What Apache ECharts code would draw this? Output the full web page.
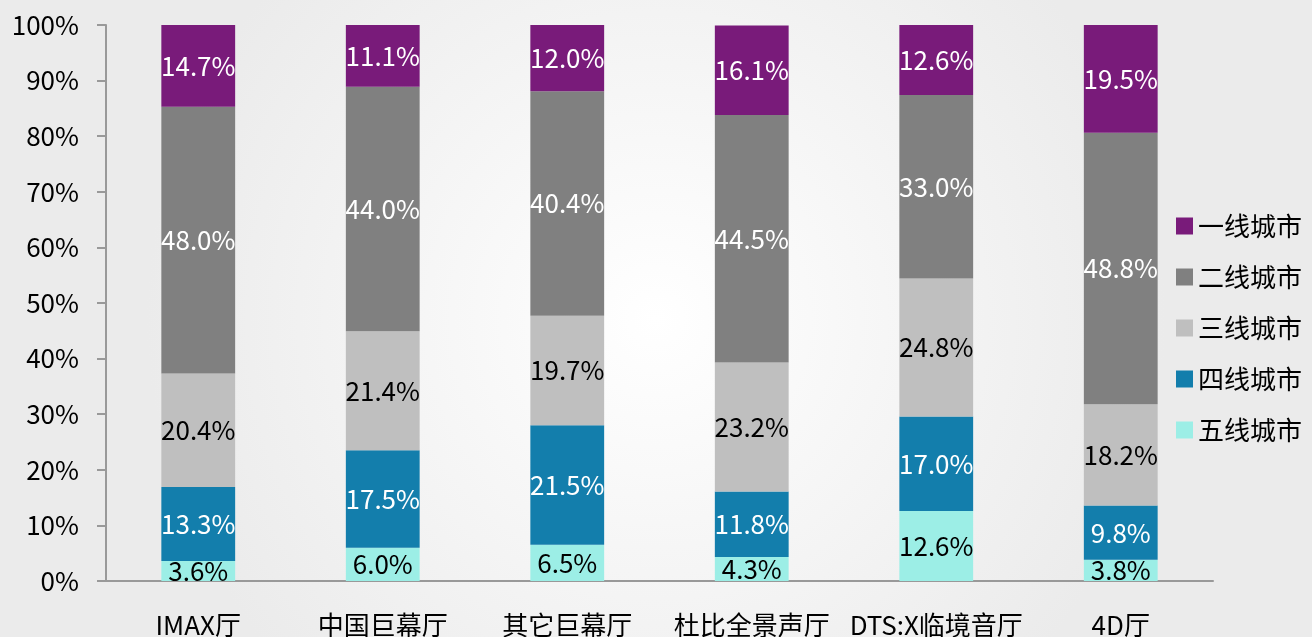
<!DOCTYPE html>
<html>
<head>
<meta charset="utf-8">
<script src="https://cdn.jsdelivr.net/npm/echarts@6/dist/echarts.min.js"></script>
<style>
	html,body{margin:0;padding:0;}
	#chart{width:1312px;height:637px;}
</style>
</head>
<body>
<div id="chart"></div>
<script>
	// 影厅类型
	var categories = ['IMAX厅', '中国巨幕厅', '其它巨幕厅', '杜比全景声厅', 'DTS:X临境音厅', '4D厅'];
	// 各线城市占比(%)
	var tier1 = [14.7, 11.1, 12.0, 16.1, 12.6, 19.5];
	var tier2 = [48.0, 44.0, 40.4, 44.5, 33.0, 48.8];
	var tier3 = [20.4, 21.4, 19.7, 23.2, 24.8, 18.2];
	var tier4 = [13.3, 17.5, 21.5, 11.8, 17.0, 9.8];
	var tier5 = [3.6, 6.0, 6.5, 4.3, 12.6, 3.8];
	var yTicks = [0, 10, 20, 30, 40, 50, 60, 70, 80, 90, 100];

	var font = '"Noto Sans CJK SC", "Noto Sans", sans-serif';

	function makeSeries(name, data, color, labelColor){
		return {
			name: name,
			type: 'bar',
			stack: 'total',
			barWidth: '40%',
			itemStyle: {color: color},
			label: {
				show: true,
				position: 'inside',
				color: labelColor,
				fontSize: 26,
				fontFamily: font,
				formatter: function(p){ return p.value.toFixed(1) + '%'; }
			},
			data: data
		};
	}

	var myChart = echarts.init(document.getElementById('chart'));
	var option = {
		backgroundColor: {
			type: 'radial', x: 0.5, y: 0.5, r: 0.8,
			colorStops: [{offset: 0, color: '#ffffff'}, {offset: 1, color: '#ebebeb'}]
		},
		animation: false,
		textStyle: {fontFamily: font},
		grid: {left: 106, right: 99, top: 25, bottom: 56, outerBoundsMode: 'none'},
		legend: {
			orient: 'vertical',
			left: 1171,
			top: 206,
			itemWidth: 17,
			itemHeight: 17,
			itemGap: 21,
			icon: 'rect',
			textStyle: {fontSize: 26, color: '#000', fontFamily: font, lineHeight: 30},
			data: ['一线城市', '二线城市', '三线城市', '四线城市', '五线城市']
		},
		xAxis: {
			type: 'category',
			data: categories,
			axisLine: {lineStyle: {color: '#999', width: 2}},
			axisTick: {length: 9, lineStyle: {color: '#999', width: 2}},
			axisLabel: {color: '#000', fontSize: 26, margin: 31, interval: 0}
		},
		yAxis: {
			type: 'value',
			min: 0,
			max: 100,
			interval: 10,
			splitLine: {show: false},
			axisLine: {show: true, lineStyle: {color: '#999', width: 2}},
			axisTick: {show: true, length: 9, lineStyle: {color: '#999', width: 2}},
			axisLabel: {
				color: '#000', fontSize: 26, margin: 27,
				formatter: function(v){ return yTicks.indexOf(v) >= 0 ? v + '%' : ''; }
			}
		},
		series: [
			makeSeries('五线城市', tier5, '#9ceee6', '#000'),
			makeSeries('四线城市', tier4, '#137eac', '#fff'),
			makeSeries('三线城市', tier3, '#bfbfbf', '#000'),
			makeSeries('二线城市', tier2, '#808080', '#fff'),
			makeSeries('一线城市', tier1, '#791b7a', '#fff')
		]
	};
	myChart.setOption(option);
</script>
</body>
</html>
